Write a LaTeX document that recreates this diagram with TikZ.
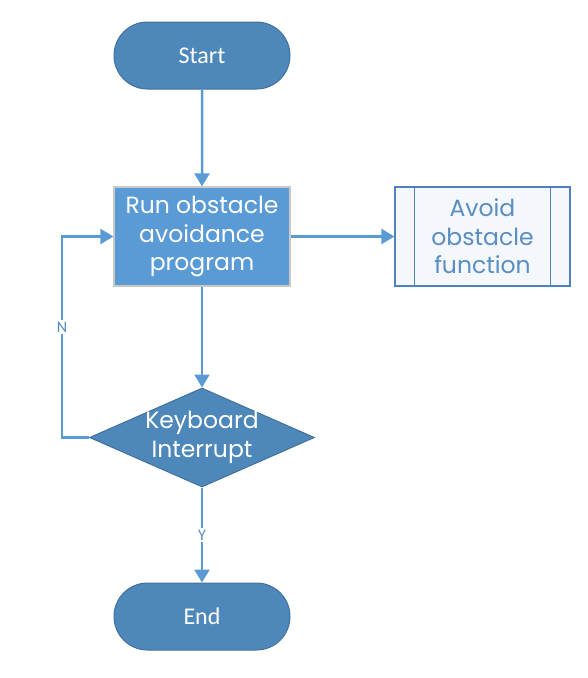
\documentclass[tikz,border=0pt]{standalone}
\usepackage{fontspec}
\setmainfont{Poppins}
\newfontfamily\calfont{Carlito}
\usetikzlibrary{arrows.meta,shapes.geometric,shapes.misc,positioning}
\definecolor{termfill}{HTML}{4E87BA}
\definecolor{termdraw}{HTML}{41719C}
\definecolor{procfill}{HTML}{5B9BD5}
\definecolor{procdraw}{HTML}{C9C9C9}
\definecolor{linec}{HTML}{5B9BD5}
\definecolor{predraw}{HTML}{4F81BD}
\definecolor{prefill}{HTML}{F4F7FB}
\definecolor{pretext}{HTML}{5A8DC4}
\tikzset{
  x=1pt,y=-1pt,
  term/.style={rounded rectangle, fill=termfill, draw=termdraw, line width=1pt,
    minimum width=176pt, minimum height=67pt, inner sep=0pt,
    text=white, font=\calfont\fontsize{24}{28}\selectfont},
  proc/.style={rectangle, fill=procfill, draw=procdraw, line width=1.2pt,
    minimum width=176pt, minimum height=99pt, inner sep=0pt, align=center,
    text=white, font=\fontsize{23.5}{28.5}\selectfont},
  dec/.style={diamond, fill=termfill, draw=termdraw, line width=1pt, aspect=2.27,
    minimum width=225pt, minimum height=99pt, inner sep=0pt},
  dectext/.style={align=center, inner sep=0pt,
    text=white, font=\fontsize{23.5}{28.5}\selectfont},
  pre/.style={rectangle, fill=prefill, draw=predraw, line width=1.2pt,
    minimum width=175pt, minimum height=99pt, inner sep=0pt, align=center,
    text=pretext, font=\fontsize{23.5}{28.5}\selectfont},
  conn/.style={draw=linec, line width=2.5pt, -{Triangle[width=15pt,length=13pt]}},
  lbl/.style={fill=white, text=linec!90!black, font=\calfont\fontsize{16}{18}\selectfont, inner sep=2pt}
}
\begin{document}
\begin{tikzpicture}
\useasboundingbox (0,0) rectangle (588,678);
\node[term] (start) at (202,55.5) {Start};
\node[proc] (run) at (202,236.5) {Run obstacle\\avoidance\\program};
\node[pre] (avoid) at (482.5,236.5) {Avoid\\obstacle\\function};
\draw[predraw, line width=1.2pt] ([xshift=20pt]avoid.north west) -- ([xshift=20pt]avoid.south west);
\draw[predraw, line width=1.2pt] ([xshift=-20pt]avoid.north east) -- ([xshift=-20pt]avoid.south east);
\node[dec] (kb) at (202,437.5) {};
\node[dectext] (kbt) at (kb.center) {Keyboard\\Interrupt};
\node[term] (end) at (202,616.5) {End};
\coordinate (c1) at (62,437.5);
\coordinate (c2) at (62,236.5);
\draw[conn] (start) -- (run);
\draw[conn] (run) -- (avoid);
\draw[conn] (run) -- (kb);
\draw[conn] (kb.west) -- (c1) -- node[lbl, pos=0.55] (nl) {N} (c2) -- (run.west);
\draw[conn] (kb.south) -- node[lbl, pos=0.5] (yl) {Y} (end.north);
\end{tikzpicture}
\end{document}
